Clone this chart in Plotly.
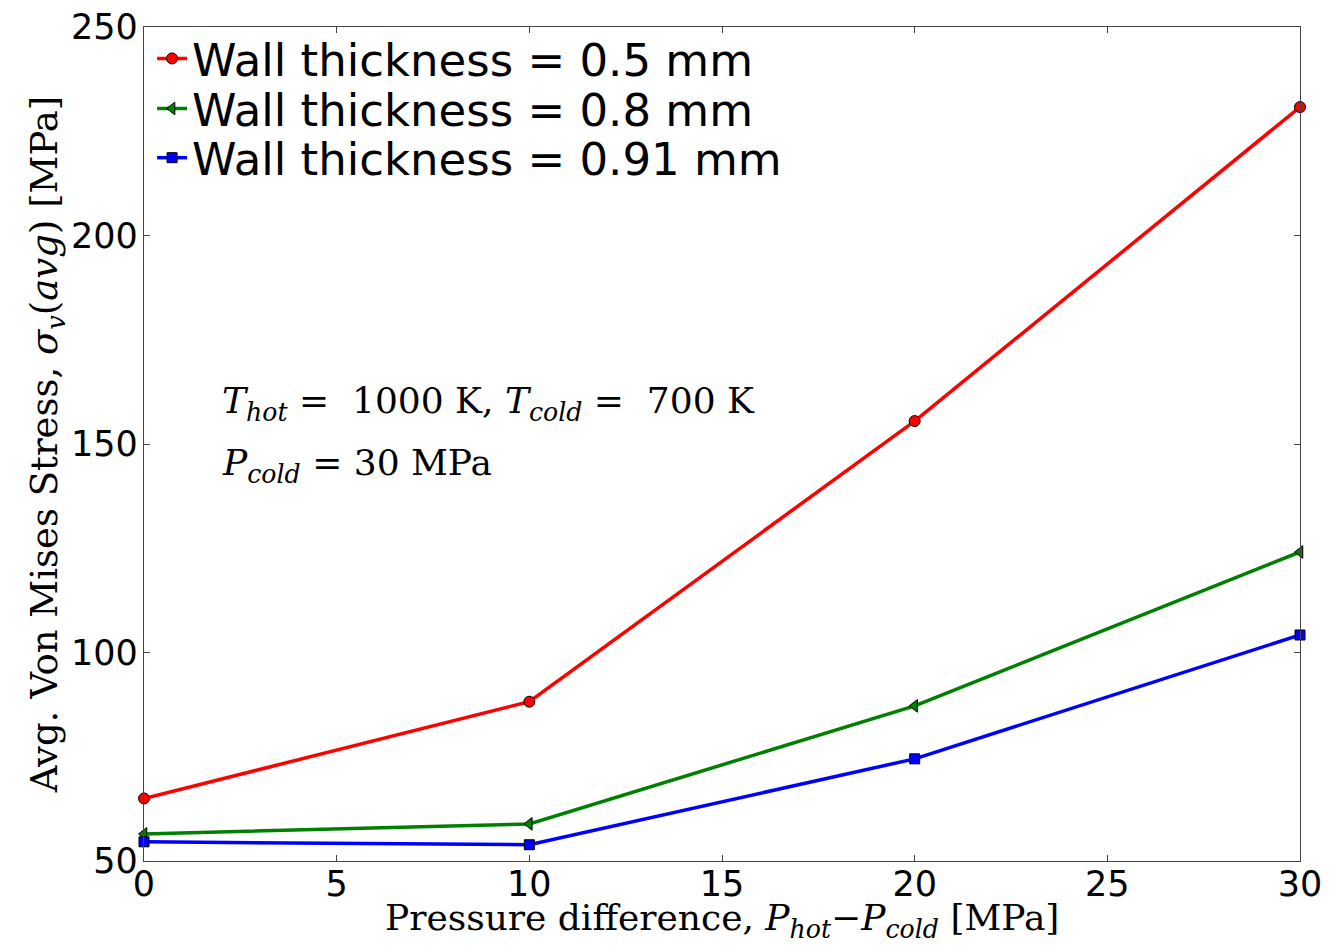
import plotly.graph_objects as go

x_vals = [0, 10, 20, 30]
red_05 = [65.0, 88.2, 155.5, 230.8]
green_08 = [56.5, 58.9, 87.2, 124.1]
blue_091 = [54.6, 53.9, 74.5, 104.2]
names = ["Wall thickness = 0.5 mm", "Wall thickness = 0.8 mm", "Wall thickness = 0.91 mm"]

fig = go.Figure()
series = [
    (red_05, names[0], "red", "circle", 11, "legend"),
    (green_08, names[1], "green", "triangle-left", 11, "legend2"),
    (blue_091, names[2], "blue", "square", 10, "legend3"),
]
for ys, nm, col, sym, sz, lg in series:
    fig.add_trace(go.Scatter(
        x=x_vals, y=ys, name=nm, mode="lines+markers",
        line=dict(color=col, width=3.5),
        marker=dict(symbol=sym, size=sz, color=col, line=dict(color="black", width=1)),
        cliponaxis=False, legend=lg,
    ))

axis_common = dict(
    showgrid=False, zeroline=False, showline=True, linecolor="#444", linewidth=1.2,
    mirror="ticks", ticks="inside", ticklen=6, tickcolor="#444", automargin=False,
    ticklabeloverflow="allow",
    tickfont=dict(family="DejaVu Sans", size=35, color="black"),
)

leg_font = dict(family="DejaVu Sans", size=45, color="black")
def leg(y):
    return dict(x=0.007, y=y, xanchor="left", yanchor="middle", bgcolor="rgba(0,0,0,0)",
                font=leg_font, itemwidth=30)

fig.update_layout(
    width=1314, height=935,
    paper_bgcolor="white", plot_bgcolor="white",
    margin=dict(l=136, r=22, t=19, b=82),
    xaxis=dict(range=[0, 30], tickvals=[0, 5, 10, 15, 20, 25, 30], ticklabelstandoff=-8,
               **axis_common),
    yaxis=dict(range=[50, 250], tickvals=[50, 100, 150, 200, 250], ticklabelstandoff=-2,
               title=dict(text="Avg. Von Mises Stress, <i>σ<sub>v</sub></i>(<i>avg</i>) [MPa]",
                          font=dict(family="DejaVu Serif", size=37, color="black"), standoff=0),
               **axis_common),
    legend=leg(0.962), legend2=leg(0.902), legend3=leg(0.843),
    showlegend=True,
)

fig.add_annotation(x=0.5, y=-0.071, xref="paper", yref="paper", xanchor="center", yanchor="middle",
                   text="Pressure difference, <i>P<sub>hot</sub></i>−<i>P<sub>cold</sub></i> [MPa]",
                   showarrow=False, font=dict(family="DejaVu Serif", size=36, color="black"))
fig.add_annotation(x=0.066, y=0.548, xref="paper", yref="paper", xanchor="left", yanchor="middle",
                   text="<i>T<sub>hot</sub></i> =  1000 K, <i>T<sub>cold</sub></i> =  700 K",
                   showarrow=False, font=dict(family="DejaVu Serif", size=36, color="black"))
fig.add_annotation(x=0.066, y=0.474, xref="paper", yref="paper", xanchor="left", yanchor="middle",
                   text="<i>P<sub>cold</sub></i> = 30 MPa",
                   showarrow=False, font=dict(family="DejaVu Serif", size=36, color="black"))

fig.write_html("out.html")
